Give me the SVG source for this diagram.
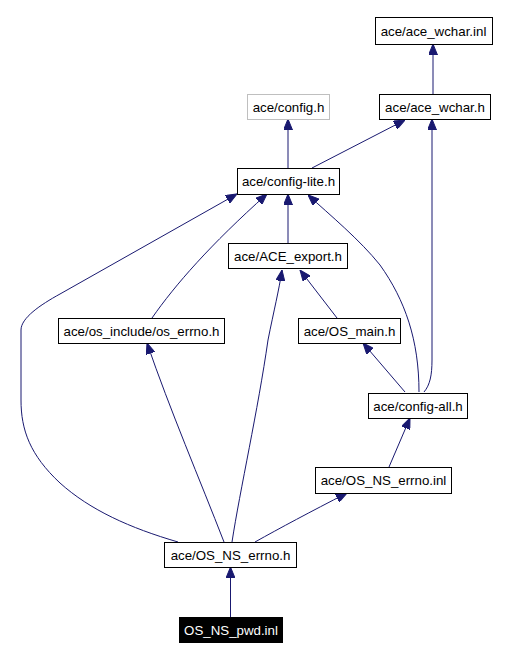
<svg xmlns="http://www.w3.org/2000/svg" width="507" height="659" viewBox="0 0 507 659">
<style>
rect.n{fill:#fff;stroke:#000;stroke-width:1}
rect.g{fill:#fff;stroke:#bfbfbf;stroke-width:1}
rect.b{fill:#000;stroke:#000;stroke-width:1}
text{font-family:"Liberation Sans",Arial,sans-serif;font-size:13.3px;text-anchor:middle;fill:#000}
text.w{fill:#fff}
.e path{fill:none;stroke:#191970;stroke-width:1;marker-end:url(#ah)}
</style>
<defs>
<marker id="ah" viewBox="0 0 11 9" refX="11" refY="4.5" markerUnits="userSpaceOnUse" markerWidth="11" markerHeight="9" orient="auto">
<path d="M0,0 L11,4.5 L0,9 z" fill="#191970" stroke="#191970"/>
</marker>
</defs>
<rect width="507" height="659" fill="#fff"/>
<g class="e" id="edges">
<path d="M230.5,617 L230.5,567"/>
<path d="M178,542 C130,528 90,510 60,483 C30,455 21,430 21,400 L21,330 C21,318 40,305 60,294 L237,194"/>
<path d="M224,542 C200,480 170,410 147,343"/>
<path d="M232,542 C240,490 258,410 268,340 C274,310 279,290 282,270"/>
<path d="M255,542 C280,528 310,512 347,493"/>
<path d="M389,467 L410,418"/>
<path d="M405,392 L363,343"/>
<path d="M419,392 C419,340 405,300 380,265 C360,240 330,215 308,195"/>
<path d="M424,392 C430,385 432,375 432,360 L432,119"/>
<path d="M288,243 L288,194"/>
<path d="M337,318 L300,270"/>
<path d="M152,318 C175,285 210,245 267,194"/>
<path d="M288,168 L288,119"/>
<path d="M312,168 L405,120"/>
<path d="M433,94 L433,44"/>
</g>
<g id="n_ace_wchar_inl"><rect class="n" x="375.5" y="17.5" width="117" height="27"/><text x="433.5" y="36">ace/ace_wchar.inl</text></g>
<g id="n_config_h"><rect class="g" x="247.5" y="94.5" width="82" height="25"/><text x="288.5" y="112">ace/config.h</text></g>
<g id="n_ace_wchar_h"><rect class="n" x="379.5" y="94.5" width="111" height="25"/><text x="435" y="112">ace/ace_wchar.h</text></g>
<g id="n_config_lite"><rect class="n" x="237.5" y="168.5" width="102" height="26"/><text x="288.5" y="186">ace/config-lite.h</text></g>
<g id="n_ace_export"><rect class="n" x="228.5" y="243.5" width="119" height="25"/><text x="288" y="261">ace/ACE_export.h</text></g>
<g id="n_os_errno"><rect class="n" x="58.5" y="318.5" width="166" height="25"/><text x="141.5" y="336">ace/os_include/os_errno.h</text></g>
<g id="n_os_main"><rect class="n" x="298.5" y="318.5" width="102" height="25"/><text x="349.5" y="336">ace/OS_main.h</text></g>
<g id="n_config_all"><rect class="n" x="368.5" y="393.5" width="99" height="25"/><text x="418" y="411">ace/config-all.h</text></g>
<g id="n_os_ns_errno_inl"><rect class="n" x="315.5" y="467.5" width="136" height="26"/><text x="383.5" y="485">ace/OS_NS_errno.inl</text></g>
<g id="n_os_ns_errno_h"><rect class="n" x="164.5" y="542.5" width="132" height="25"/><text x="230.5" y="560">ace/OS_NS_errno.h</text></g>
<g id="n_os_ns_pwd_inl"><rect class="b" x="179.5" y="617.5" width="103" height="25"/><text class="w" x="231" y="635">OS_NS_pwd.inl</text></g>
</svg>
